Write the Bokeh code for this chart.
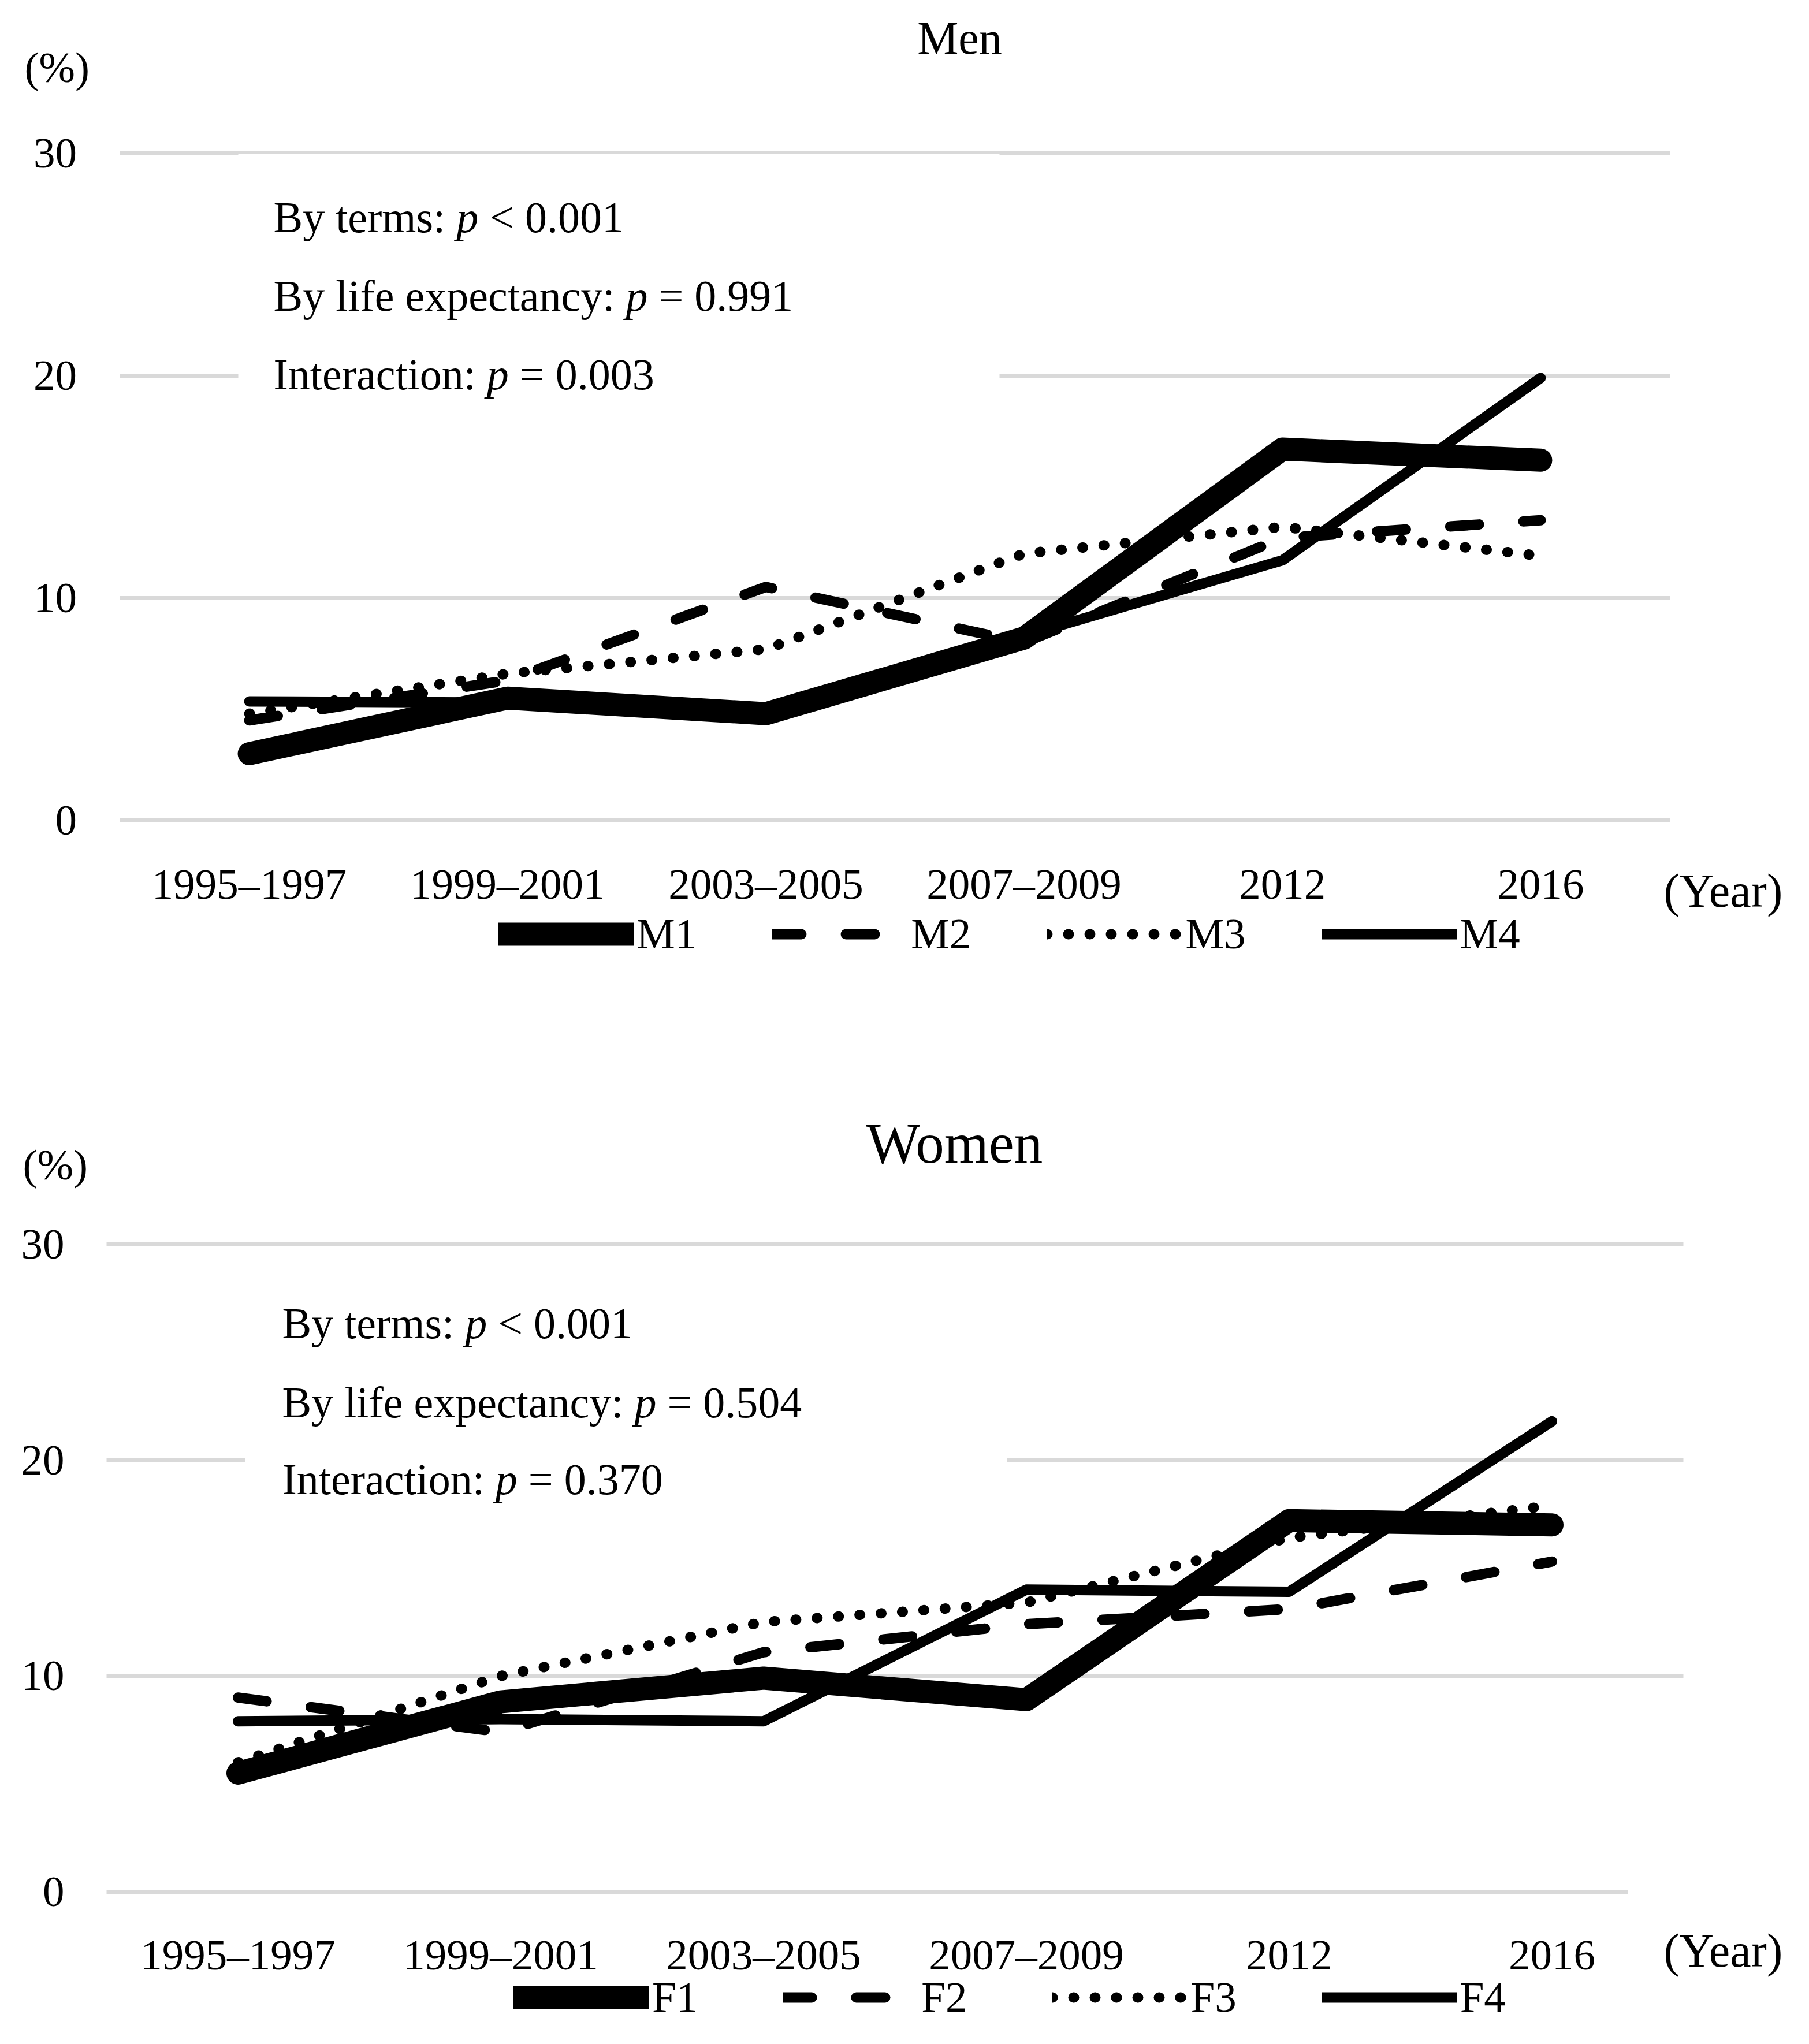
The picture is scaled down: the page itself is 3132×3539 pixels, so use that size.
from bokeh.plotting import figure
from bokeh.models import (FactorRange, Range1d, FixedTicker, Label, Legend, LegendItem)
from bokeh.layouts import column
from bokeh.embed import file_html
from bokeh.resources import INLINE

# ---------------- data ----------------
categories = ["1995–1997", "1999–2001", "2003–2005", "2007–2009", "2012", "2016"]
y_ticks = [0, 10, 20, 30]

men_names = ["M1", "M2", "M3", "M4"]
men_M1 = [3.0, 5.5, 4.8, 8.2, 16.7, 16.2]
men_M2 = [4.5, 6.3, 10.5, 8.0, 12.7, 13.5]
men_M3 = [4.8, 6.6, 7.7, 12.0, 13.2, 11.9]
men_M4 = [5.35, 5.3, 5.0, 8.3, 11.7, 19.9]

women_names = ["F1", "F2", "F3", "F4"]
women_F1 = [5.5, 8.8, 9.9, 8.9, 17.2, 17.0]
women_F2 = [9.0, 7.4, 11.1, 12.4, 13.1, 15.3]
women_F3 = [6.0, 10.0, 12.5, 13.4, 16.4, 17.9]
women_F4 = [7.9, 8.0, 7.9, 14.0, 13.9, 21.8]

men_notes = [["By terms:", "p", "< 0.001"],
             ["By life expectancy:", "p", "= 0.991"],
             ["Interaction:", "p", "= 0.003"]]
women_notes = [["By terms:", "p", "< 0.001"],
               ["By life expectancy:", "p", "= 0.504"],
               ["Interaction:", "p", "= 0.370"]]

FONT = "Liberation Serif"
W = 3098

# Times / Liberation Serif advance widths (per 1000 em)
ADV = {" ": 250, "(": 333, ")": 333, "%": 833, ".": 250, ":": 278, "<": 564, "=": 564,
       "B": 667, "I": 333, "a": 444, "c": 444, "e": 444, "f": 333, "i": 278, "l": 278,
       "m": 778, "n": 500, "o": 500, "p": 500, "r": 333, "s": 389, "t": 278, "x": 500,
       "y": 500}


def text_w(s, size):
    return sum(ADV.get(c, 500) for c in s) / 1000.0 * size


STYLES = [dict(line_width=40),
          dict(line_width=18, line_dash="50 77"),
          dict(line_width=18, line_dash="1 36"),
          dict(line_width=18)]


def make_panel(title, series, names, notes, g):
    n = len(categories)
    cw, ppu, zero, y0, H = g["cw"], g["ppu"], g["zero"], g["y0"], g["height"]
    pad = (W / cw - n) / 2.0
    cat_start = 8 + pad * cw          # page x of the first category's left edge

    def to_x(px):
        return (px - cat_start) / cw

    def to_y(py):
        return (zero - py) / ppu

    p = figure(width=W, height=H,
               x_range=FactorRange(*categories, range_padding=pad,
                                   range_padding_units="absolute"),
               y_range=Range1d(to_y(y0 + H), to_y(y0)),
               output_backend="svg", toolbar_location=None,
               min_border_left=0, min_border_right=0, min_border_top=0,
               min_border_bottom=0, background_fill_color="white",
               border_fill_color="white")
    p.title.visible = False
    p.outline_line_color = None
    p.xgrid.visible = False
    p.ygrid.visible = False
    p.yaxis.ticker = FixedTicker(ticks=y_ticks)
    for ax in (p.xaxis, p.yaxis):
        ax.axis_line_color = None
        ax.major_tick_line_color = None
        ax.minor_tick_line_color = None
        ax.major_label_text_font = FONT
        ax.major_label_text_font_size = "75px"
        ax.major_label_text_color = "black"
    p.xaxis.fixed_location = -1
    p.yaxis.fixed_location = 0
    p.xaxis.major_label_standoff = g["xstand"]
    p.yaxis.major_label_standoff = g["ystand"]

    # horizontal gridlines at the y ticks, across the category area
    p.segment(x0=[0] * len(y_ticks), x1=g["grid_x1"], y0=y_ticks, y1=y_ticks,
              line_color="#d9d9d9", line_width=7)

    # white text box that hides the gridlines behind the notes
    bx = g["box"]
    p.quad(left=[to_x(bx[0])], right=[to_x(bx[1])], top=[to_y(bx[2])],
           bottom=[to_y(bx[3])], fill_color="white", line_color=None)

    renderers = []
    for vals, st in zip(series, STYLES):
        r = p.line(x=categories, y=vals, line_color="black", line_cap="round",
                   line_join="round", **st)
        renderers.append(r)

    legend = Legend(items=[LegendItem(label=nm, renderers=[r]) for nm, r in zip(names, renderers)],
                    orientation="horizontal", location=g["leg_loc"],
                    glyph_width=235, glyph_height=60, label_height=60,
                    label_standoff=5, spacing=g["leg_sp"], padding=0, margin=0,
                    border_line_color=None, background_fill_alpha=0,
                    label_text_font=FONT, label_text_font_size="75px",
                    label_text_color="black")
    p.add_layout(legend)

    def lab(txt, px, py, size, align="left", style="normal"):
        p.add_layout(Label(x=to_x(px), y=to_y(py), text=txt, text_font=FONT,
                           text_font_size=f"{size}px", text_align=align,
                           text_baseline="middle", text_color="black",
                           text_font_style=style))

    lab(title, g["title"][0], g["title"][1], g["title"][2], align="center")
    lab("(%)", g["pct"][0], g["pct"][1], 75)
    lab("(Year)", g["year"][0], g["year"][1], g["year"][2])
    size = 76
    for parts, py in zip(notes, g["note_y"]):
        x = g["note_x"]
        for i, part in enumerate(parts):
            lab(part, x, py, size, style="italic" if i == 1 else "normal")
            x += text_w(part, size) + text_w(" ", size)
    return p


men_geom = dict(cw=447.17, ppu=38.5, zero=1428, y0=8, height=1740,
                xstand=24, ystand=69, grid_x1=[6, 6, 6, 6],
                box=(420, 1738, 274, 700),
                leg_loc=(862, 80), leg_sp=131,
                title=(1669, 73, 80), pct=(50, 124), year=(2888, 1550, 82),
                note_x=481, note_y=[383, 519, 655])
women_geom = dict(cw=455.0, ppu=37.37, zero=3283, y0=1748, height=1783,
                  xstand=24, ystand=67, grid_x1=[5.79, 6, 6, 6],
                  box=(432, 1751, 2205, 2600),
                  leg_loc=(889, 22), leg_sp=147,
                  title=(1660, 1987, 99), pct=(47, 2024), year=(2888, 3385, 82),
                  note_x=496, note_y=[2298, 2435, 2568])

p1 = make_panel("Men", [men_M1, men_M2, men_M3, men_M4], men_names, men_notes, men_geom)
p2 = make_panel("Women", [women_F1, women_F2, women_F3, women_F4], women_names,
                women_notes, women_geom)

layout = column(p1, p2, spacing=0)
open("out.html", "w").write(file_html(layout, INLINE))
